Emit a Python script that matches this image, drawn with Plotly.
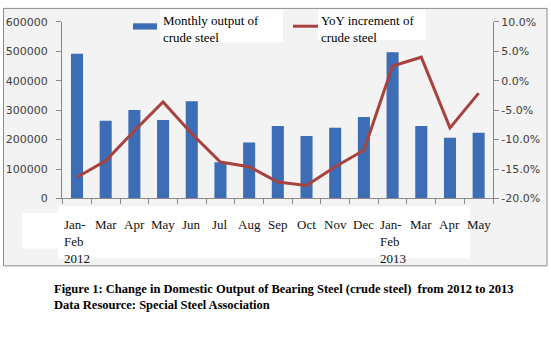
import plotly.graph_objects as go

W, H = 551, 346

categories = ["Jan-Feb 2012", "Mar 2012", "Apr 2012", "May 2012", "Jun 2012", "Jul 2012",
              "Aug 2012", "Sep 2012", "Oct 2012", "Nov 2012", "Dec 2012",
              "Jan-Feb 2013", "Mar 2013", "Apr 2013", "May 2013"]
tick_labels = ["Jan-<br>Feb<br>2012", "Mar", "Apr", "May", "Jun", "Jul", "Aug", "Sep",
               "Oct", "Nov", "Dec", "Jan-<br>Feb<br>2013", "Mar", "Apr", "May"]
output_values = [492000, 264000, 301000, 267000, 330000, 123000, 190000, 246000,
                 212000, 240000, 277000, 497000, 246000, 206000, 223000]
yoy_values = [-0.164, -0.136, -0.085, -0.036, -0.090, -0.138, -0.146, -0.172,
              -0.178, -0.146, -0.118, 0.025, 0.040, -0.080, -0.021]
left_ticks = [0, 100000, 200000, 300000, 400000, 500000, 600000]
right_ticks = [-0.20, -0.15, -0.10, -0.05, 0.0, 0.05, 0.10]
right_tick_text = ["-20.0%", "-15.0%", "-10.0%", "-5.0%", "0.0%", "5.0%", "10.0%"]
legend_bar = "Monthly output of<br>crude steel"
legend_line = "YoY increment of<br>crude steel"
caption = ("<b>Figure 1: Change in Domestic Output of Bearing Steel (crude steel)  from 2012 to 2013"
           "<br>Data Resource: Special Steel Association</b>")

BAR_C = "#3d6db4"
LINE_C = "#a8423f"
AX_C = "#8a8a8a"
TICK_FONT = dict(family="DejaVu Sans", size=11, color="#404040")
SERIF = "Liberation Serif"


def px(x):
    return x / W


def py(y):
    return (H - y) / H


fig = go.Figure()
fig.add_trace(go.Bar(x=categories, y=output_values, marker_color=BAR_C,
                     marker_line_width=0, name="Monthly output of crude steel",
                     showlegend=False))
fig.add_trace(go.Scatter(x=categories, y=yoy_values, yaxis="y2", mode="lines",
                         line=dict(color=LINE_C, width=3),
                         name="YoY increment of crude steel", showlegend=False))

shapes = [
    # chart box
    dict(type="rect", xref="paper", yref="paper", x0=px(3.5), x1=px(547), y0=py(270), y1=py(2.5),
         fillcolor="#f3f3f3", line=dict(color="#8c8c8c", width=1), layer="below"),
    # white patch under axis
    dict(type="rect", xref="paper", yref="paper", x0=px(58), x1=px(470), y0=py(262), y1=py(208),
         fillcolor="white", line=dict(width=0), layer="below"),
    dict(type="rect", xref="paper", yref="paper", x0=px(22), x1=px(80), y0=py(252), y1=py(215),
         fillcolor="white", line=dict(width=0), layer="below"),
    # legend backgrounds
    dict(type="rect", xref="paper", yref="paper", x0=px(160), x1=px(283), y0=py(38), y1=py(4),
         fillcolor="white", line=dict(width=0), layer="below"),
    dict(type="rect", xref="paper", yref="paper", x0=px(318), x1=px(426), y0=py(35), y1=py(4),
         fillcolor="white", line=dict(width=0), layer="below"),
    # legend symbols
    dict(type="rect", xref="paper", yref="paper", x0=px(133), x1=px(157), y0=py(24.5), y1=py(18),
         fillcolor=BAR_C, line=dict(width=0)),
    dict(type="line", xref="paper", yref="paper", x0=px(293), x1=px(318), y0=py(21), y1=py(21),
         line=dict(color=LINE_C, width=3)),
]

annotations = [
    dict(text=legend_bar, xref="paper", yref="paper", x=px(161), y=py(5), xanchor="left",
         yanchor="top", align="left", showarrow=False,
         font=dict(family=SERIF, size=13, color="black")),
    dict(text=legend_line, xref="paper", yref="paper", x=px(319), y=py(5), xanchor="left",
         yanchor="top", align="left", showarrow=False,
         font=dict(family=SERIF, size=13, color="black")),
    dict(text=caption, xref="paper", yref="paper", x=px(52), y=py(285), xanchor="left",
         yanchor="top", align="left", showarrow=False,
         font=dict(family=SERIF, size=12.5, color="black")),
]
for c, t in zip(categories, tick_labels):
    annotations.append(dict(text=t, xref="x", yref="paper", x=c, y=py(217), xanchor="center",
                            yanchor="top", align="left", showarrow=False,
                            font=dict(family=SERIF, size=13, color="#111111")))

fig.update_layout(
    width=W, height=H,
    margin=dict(l=0, r=0, t=0, b=0),
    paper_bgcolor="white",
    plot_bgcolor="rgba(0,0,0,0)",
    bargap=0.58,
    shapes=shapes,
    annotations=annotations,
    xaxis=dict(domain=[px(62), px(493)], type="category", tickson="boundaries",
               ticks="outside", ticklen=5, tickcolor=AX_C, showticklabels=False,
               showline=True, linecolor=AX_C, linewidth=1, showgrid=False, zeroline=False),
    yaxis=dict(domain=[py(200), py(16.5)], range=[0, 600000], tickvals=left_ticks,
               tickformat="d", ticks="outside", ticklen=5, tickcolor=AX_C,
               showline=True, linecolor=AX_C, showgrid=False, zeroline=False,
               tickfont=TICK_FONT, ticklabelstandoff=6),
    yaxis2=dict(overlaying="y", side="right", range=[-0.20, 0.10], tickvals=right_ticks,
                ticktext=right_tick_text, ticks="outside", ticklen=5, tickcolor=AX_C,
                showline=True, linecolor=AX_C, showgrid=False, zeroline=False,
                tickfont=TICK_FONT, anchor="x"),
)

fig.write_html("out.html")
